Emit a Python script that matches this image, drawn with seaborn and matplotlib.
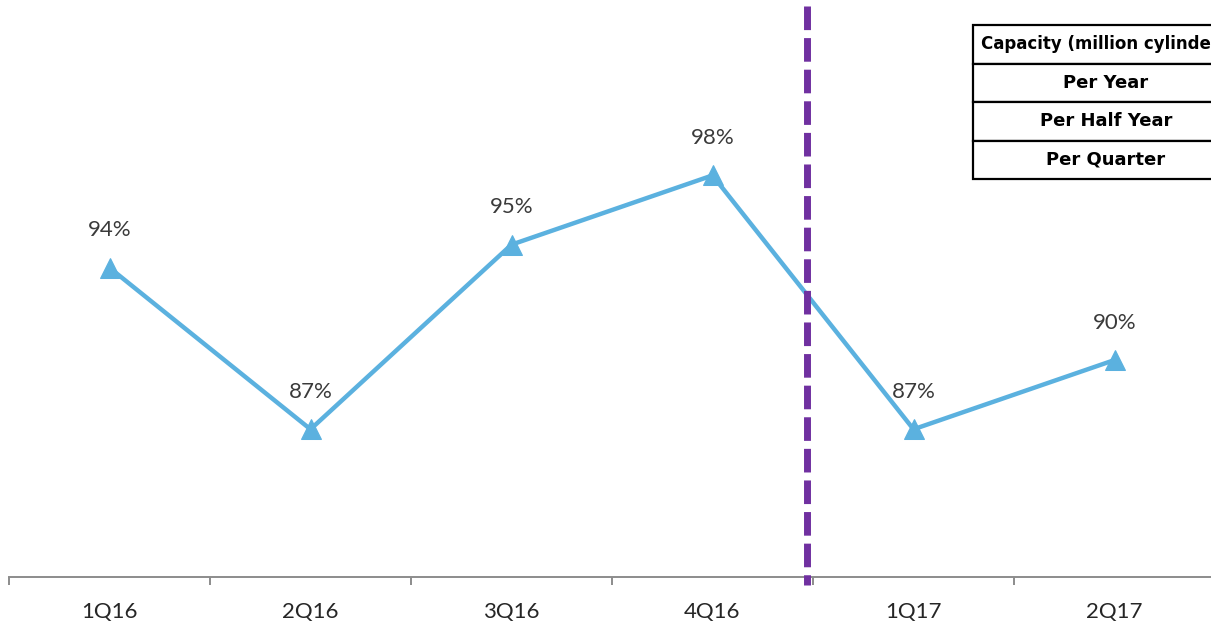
import matplotlib
matplotlib.use("Agg")
import matplotlib.pyplot as plt
from matplotlib.patches import Rectangle
import seaborn as sns
import pandas as pd

# Quarterly utilisation
quarters = ["1Q16", "2Q16", "3Q16", "4Q16", "1Q17", "2Q17"]
utilisation = [94, 87, 95, 98, 87, 90]

# Capacity table rows
table_header = "Capacity (million cylinders)"
table_rows = ["Per Year", "Per Half Year", "Per Quarter"]

df = pd.DataFrame({"quarter": quarters, "utilisation": utilisation})

sns.set_theme(style="white")
plt.rcParams["font.family"] = ["Lato", "DejaVu Sans"]

W, H = 1211, 626
fig = plt.figure(figsize=(W / 100, H / 100), dpi=100)
ax = fig.add_axes([9 / W, 49 / H, 1206 / W, 577 / H])

line_color = "#5BB1DF"
sns.lineplot(data=df, x="quarter", y="utilisation", ax=ax, color=line_color,
             linewidth=3.2, marker="^", markersize=15, markeredgecolor=line_color,
             markerfacecolor=line_color, sort=False)

for i, v in enumerate(utilisation):
    ax.annotate(f"{v}%", (i, v), xytext=(0, 27), textcoords="offset points",
                ha="center", va="center", fontsize=16, color="#3A3A3A")

ax.set_xlim(-0.5, len(quarters) - 0.5)
ax.set_ylim(80.6, 105.6)
ax.set_xlabel("")
ax.set_ylabel("")
ax.set_yticks([])

# Category labels centred, boundary ticks between categories
ax.set_xticks(range(len(quarters)))
ax.set_xticklabels(quarters)
ax.set_xticks([i - 0.5 for i in range(len(quarters) + 1)], minor=True)
ax.tick_params(axis="x", which="major", length=0, pad=18, labelsize=16,
               labelcolor="#262626")
ax.tick_params(axis="x", which="minor", length=6, width=1.4, color="#8C8C8C",
               bottom=True)

for side in ["top", "right", "left"]:
    ax.spines[side].set_visible(False)
ax.spines["bottom"].set_color("#8C8C8C")
ax.spines["bottom"].set_linewidth(1.4)

# Divider between actual quarters
ax.plot([3.47, 3.47], [0.99, -0.014], transform=ax.get_xaxis_transform(),
        color="#7030A0", linewidth=5, dashes=(3.4, 1.15), clip_on=False,
        solid_capstyle="butt", dash_capstyle="butt", zorder=5)

# Capacity table in the top right corner
left, top, row_h, tbl_w = 973, 25, 38.5, 300
for r in range(len(table_rows) + 1):
    y0 = top + r * row_h
    fig.add_artist(Rectangle((left / W, 1 - (y0 + row_h) / H), tbl_w / W, row_h / H,
                             transform=fig.transFigure, facecolor="white",
                             edgecolor="black", linewidth=1.6))
fig.text(981 / W, 1 - (top + row_h / 2) / H, table_header, ha="left", va="center",
         fontsize=12, fontweight="bold", family="DejaVu Sans", color="black")
for r, label in enumerate(table_rows, start=1):
    fig.text(1106 / W, 1 - (top + r * row_h + row_h / 2) / H, label, ha="center",
             va="center", fontsize=13, fontweight="bold", family="DejaVu Sans",
             color="black")

fig.savefig("out.png", dpi=100)
